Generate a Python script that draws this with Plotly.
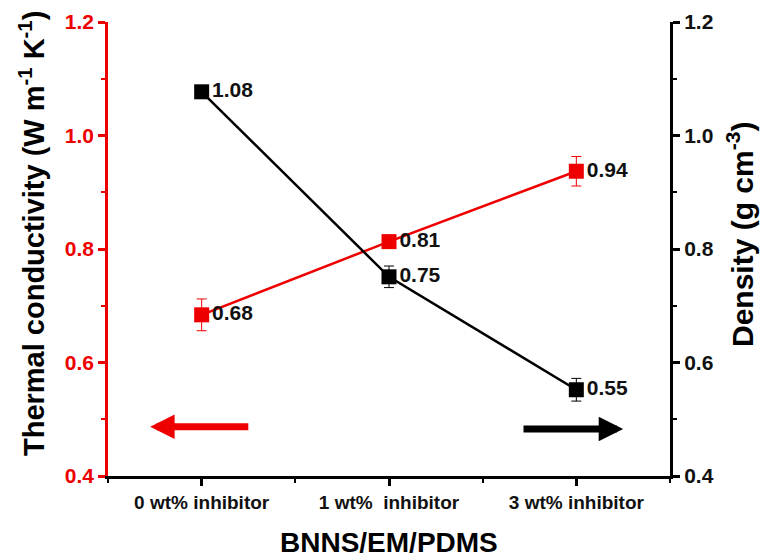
import plotly.graph_objects as go

categories = ["0 wt% inhibitor", "1 wt%  inhibitor", "3 wt% inhibitor"]
cat_pos = [0, 1, 2]
thermal_k = [0.684, 0.813, 0.937]
thermal_err = [0.028, 0.008, 0.026]
density = [1.077, 0.751, 0.552]
density_err = [0.008, 0.019, 0.020]

x_title = "BNNS/EM/PDMS"
y_title = "Thermal conductivity (W m<sup>-1</sup> K<sup>-1</sup>)"
y2_title = "Density (g cm<sup>-3</sup>)"

RED = "#ee0000"
FONT = "Liberation Sans"

fig = go.Figure()

fig.add_trace(go.Scatter(
    x=cat_pos, y=thermal_k, mode="lines+markers+text",
    line=dict(color=RED, width=2.5),
    marker=dict(symbol="square", size=15, color=RED),
    error_y=dict(type="data", array=thermal_err, color=RED, thickness=1, width=5),
    text=[f"{v:.2f}" for v in thermal_k], textposition="middle right",
    textfont=dict(family=FONT, size=21, color="#111111", weight="bold"),
    showlegend=False, cliponaxis=False,
))

fig.add_trace(go.Scatter(
    x=cat_pos, y=density, mode="lines+markers+text", yaxis="y2",
    line=dict(color="black", width=2.5),
    marker=dict(symbol="square", size=15, color="black"),
    error_y=dict(type="data", array=density_err, color="black", thickness=1, width=5),
    text=[f"{v:.2f}" for v in density], textposition="middle right",
    textfont=dict(family=FONT, size=21, color="#111111", weight="bold"),
    showlegend=False, cliponaxis=False,
))

# direction arrows
fig.add_annotation(x=-0.275, y=0.487, ax=0.257, ay=0.487, xref="x", yref="y",
                   axref="x", ayref="y", showarrow=True, arrowhead=2,
                   arrowsize=0.7, arrowwidth=7, arrowcolor=RED, text="")
fig.add_annotation(x=2.25, y=0.483, ax=1.71, ay=0.483, xref="x", yref="y",
                   axref="x", ayref="y", showarrow=True, arrowhead=2,
                   arrowsize=0.7, arrowwidth=7, arrowcolor="black", text="")

# axis titles
fig.add_annotation(text=x_title, xref="paper", yref="paper", x=0.5, y=-0.1454,
                   xanchor="center", yanchor="middle", showarrow=False,
                   font=dict(family=FONT, size=28, color="black", weight="bold"))
fig.add_annotation(text=y_title, xref="paper", yref="paper", x=-0.1352, y=0.533,
                   xanchor="center", yanchor="middle", showarrow=False, textangle=-90,
                   font=dict(family=FONT, size=29, color="black", weight="bold"))
fig.add_annotation(text=y2_title, xref="paper", yref="paper", x=1.1245, y=0.533,
                   xanchor="center", yanchor="middle", showarrow=False, textangle=-90,
                   font=dict(family=FONT, size=30, color="black", weight="bold"))

fig.update_layout(
    width=769, height=558,
    margin=dict(l=100, r=107, t=14, b=90),
    paper_bgcolor="white", plot_bgcolor="white",
    font=dict(family=FONT, color="black"),
    xaxis=dict(
        range=[-0.5, 2.5], tickmode="array", tickvals=cat_pos, ticktext=categories,
        showline=True, linecolor="black", linewidth=2.5, automargin=False,
        ticks="outside", ticklen=7, tickwidth=2.5, tickcolor="black",
        minor=dict(tick0=0.5, dtick=1, ticks="outside", ticklen=4, tickwidth=2, tickcolor="black"),
        tickfont=dict(family=FONT, size=19, color="#111111", weight="bold"),
        showgrid=False, zeroline=False,
    ),
    xaxis2=dict(
        overlaying="x", side="top", anchor="y", matches="x", automargin=False,
        range=[-0.5, 2.5], tickmode="array", tickvals=cat_pos,
        showticklabels=False, showline=True, linecolor="black", linewidth=3,
        ticks="inside", ticklen=7, tickwidth=2.5, tickcolor="black",
        minor=dict(tick0=0.5, dtick=1, ticks="inside", ticklen=4, tickwidth=2, tickcolor="black"),
        showgrid=False, zeroline=False,
    ),
    yaxis=dict(
        range=[0.4, 1.2], tickmode="linear", tick0=0.4, dtick=0.2, tickformat=".1f",
        showline=True, linecolor=RED, linewidth=2.5, automargin=False,
        ticks="outside", ticklen=7, tickwidth=2.5, tickcolor=RED,
        minor=dict(tick0=0.5, dtick=0.2, ticks="outside", ticklen=4, tickwidth=2, tickcolor=RED),
        tickfont=dict(family=FONT, size=21, color=RED, weight="bold"),
        showgrid=False, zeroline=False,
    ),
    yaxis2=dict(
        overlaying="y", side="right", anchor="x", automargin=False,
        range=[0.4, 1.2], tickmode="linear", tick0=0.4, dtick=0.2, tickformat=".1f",
        showline=True, linecolor="black", linewidth=3,
        ticks="outside", ticklen=7, tickwidth=2.5, tickcolor="black",
        minor=dict(tick0=0.5, dtick=0.2, ticks="outside", ticklen=4, tickwidth=2, tickcolor="black"),
        tickfont=dict(family=FONT, size=21, color="#111111", weight="bold"),
        showgrid=False, zeroline=False,
    ),
)

fig.write_html("out.html")
